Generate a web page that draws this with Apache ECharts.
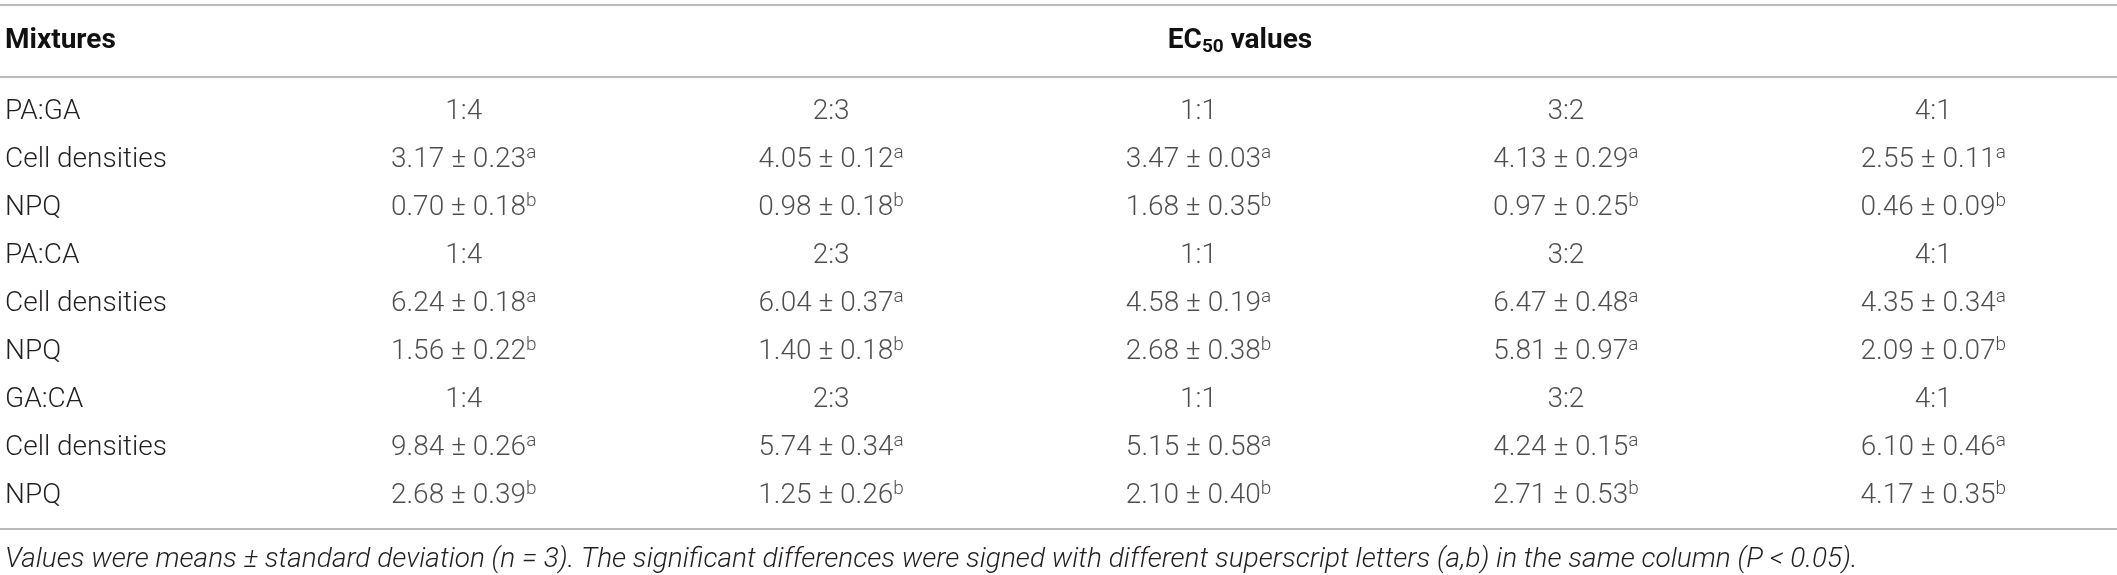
<!DOCTYPE html>
<html>
<head>
<meta charset="utf-8">
<script src="https://cdn.jsdelivr.net/npm/echarts@6/dist/echarts.min.js"></script>
<style>
	html, body { margin: 0; padding: 0; background: #fff; }
	#ec50Table { width: 2117px; height: 575px; }
</style>
</head>
<body>
<div id="ec50Table"></div>
<script>
// 데이터
let ratios = ["1:4", "2:3", "1:1", "3:2", "4:1"];
let mixtures = ["PA:GA", "PA:CA", "GA:CA"];
let measures = ["Cell densities", "NPQ"];

let cellMean = [
	[3.17, 4.05, 3.47, 4.13, 2.55],
	[6.24, 6.04, 4.58, 6.47, 4.35],
	[9.84, 5.74, 5.15, 4.24, 6.10],
];
let cellSd = [
	[0.23, 0.12, 0.03, 0.29, 0.11],
	[0.18, 0.37, 0.19, 0.48, 0.34],
	[0.26, 0.34, 0.58, 0.15, 0.46],
];
let cellSig = [
	["a", "a", "a", "a", "a"],
	["a", "a", "a", "a", "a"],
	["a", "a", "a", "a", "a"],
];
let npqMean = [
	[0.70, 0.98, 1.68, 0.97, 0.46],
	[1.56, 1.40, 2.68, 5.81, 2.09],
	[2.68, 1.25, 2.10, 2.71, 4.17],
];
let npqSd = [
	[0.18, 0.18, 0.35, 0.25, 0.09],
	[0.22, 0.18, 0.38, 0.97, 0.07],
	[0.39, 0.26, 0.40, 0.53, 0.35],
];
let npqSig = [
	["b", "b", "b", "b", "b"],
	["b", "b", "b", "a", "b"],
	["b", "b", "b", "b", "b"],
];

let footnote = "Values were means \u00b1 standard deviation (n = 3). The significant differences were signed with different superscript letters (a,b) in the same column (P < 0.05).";

function ec50Table() {
	let dom = document.getElementById("ec50Table");
	let myChart = echarts.init(dom, null, { renderer: "canvas" });

	let textColor = "#231f20";
	let ruleColor = "#a3a3a3";
	let font = "Roboto, 'Liberation Sans', sans-serif";

	// 행 라벨: 혼합물 이름 + 측정 항목
	let rowLabels = [];
	mixtures.forEach(function (m) {
		rowLabels.push(m, measures[0], measures[1]);
	});

	function fmt(mean, sd, sig) {
		return mean.toFixed(2) + " \u00b1 " + sd.toFixed(2) + "{sup|" + sig + "}";
	}

	let cells = [];
	mixtures.forEach(function (m, g) {
		ratios.forEach(function (r, c) {
			cells.push([c, g * 3, r]);
			cells.push([c, g * 3 + 1, fmt(cellMean[g][c], cellSd[g][c], cellSig[g][c])]);
			cells.push([c, g * 3 + 2, fmt(npqMean[g][c], npqSd[g][c], npqSig[g][c])]);
		});
	});

	let option = {
		animation: false,
		grid: {
			left: 280,
			width: 1940,
			top: 112,
			bottom: 79,
		},
		xAxis: {
			type: "category",
			data: ratios,
			boundaryGap: true,
			show: false,
		},
		yAxis: {
			type: "category",
			data: rowLabels,
			inverse: true,
			boundaryGap: false,
			axisLine: { show: false },
			axisTick: { show: false },
			splitLine: { show: false },
			axisLabel: {
				show: true,
				interval: 0,
				align: "left",
				margin: 275,
				color: textColor,
				fontFamily: font,
				fontWeight: 300,
				fontSize: 28,
			},
		},
		series: [
			{
				type: "scatter",
				data: cells,
				symbolSize: 1,
				silent: true,
				itemStyle: { color: "rgba(0,0,0,0)" },
				label: {
					show: true,
					position: "inside",
					formatter: function (p) {
						return p.value[2];
					},
					color: textColor,
					fontFamily: font,
					fontWeight: 300,
					fontSize: 28,
					lineHeight: 32,
					rich: {
						sup: {
							fontFamily: font,
							fontWeight: 300,
							fontSize: 19,
							lineHeight: 19,
							verticalAlign: "top",
							color: textColor,
						},
					},
				},
			},
		],
		graphic: [
			{ type: "line", shape: { x1: 0, y1: 5, x2: 2117, y2: 5 }, style: { stroke: ruleColor, lineWidth: 1.5 } },
			{ type: "line", shape: { x1: 0, y1: 77, x2: 2117, y2: 77 }, style: { stroke: ruleColor, lineWidth: 1.5 } },
			{ type: "line", shape: { x1: 0, y1: 529, x2: 2117, y2: 529 }, style: { stroke: ruleColor, lineWidth: 1.5 } },
			{
				type: "text",
				x: 5,
				y: 41,
				style: {
					text: "Mixtures",
					fill: "#111",
					font: "bold 28px " + font,
					verticalAlign: "middle",
				},
			},
			{
				type: "text",
				x: 1240,
				y: 41,
				style: {
					text: "EC{sub|50} values",
					fill: "#111",
					font: "bold 28px " + font,
					align: "center",
					verticalAlign: "middle",
					lineHeight: 32,
					rich: {
						sub: {
							fill: "#111",
							font: "bold 19px " + font,
							lineHeight: 19,
							verticalAlign: "bottom",
						},
					},
				},
			},
			{
				type: "text",
				x: 5,
				y: 560,
				style: {
					text: footnote,
					fill: textColor,
					font: "italic 300 28px " + font,
					verticalAlign: "middle",
				},
			},
		],
	};

	myChart.setOption(option);
	window.addEventListener("resize", myChart.resize);
}

(function init() {
	ec50Table();
})();
</script>
</body>
</html>
